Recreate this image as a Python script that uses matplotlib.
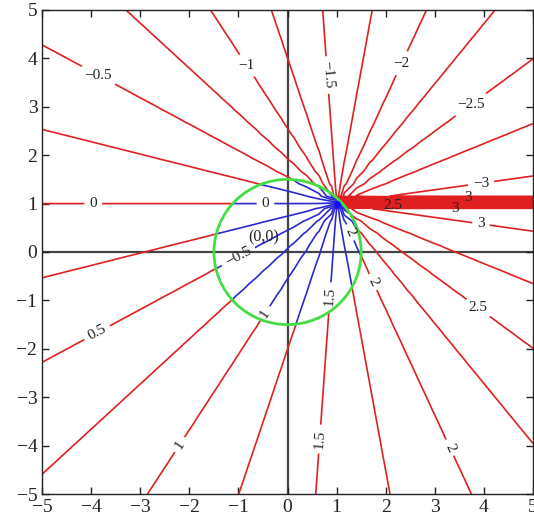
import numpy as np
import matplotlib.pyplot as plt
from matplotlib.patches import Circle
from matplotlib.path import Path

# field: argument of (z0 - z), rays from the point z0
z0 = 1 + 1j
radius = 1.5
label_levels = [-3.0, -2.5, -2.0, -1.5, -1.0, -0.5, 0.0, 0.5, 1.0, 1.5, 2.0, 2.5, 3.0]
plain_levels = [-2.75, -2.25, -1.75, -1.25, -0.75, -0.25, 0.25, 0.75, 1.25, 1.75, 2.25, 2.75]
inner_label_text = {-3.0: "\u22123", -2.5: "\u22122.5", -2.0: "\u22122", -1.5: "\u22121.5",
                    -1.0: "\u22121", -0.5: "\u22120.5", 0.0: "0", 0.5: "\u22120.5",
                    1.0: "1", 1.5: "1.5", 2.0: "2", 2.5: "2.5", 3.0: "3"}

# where the labels sit (data coords)
outer_label_pos = [(-3.86, 3.64), (-3.96, 0.99), (-0.8, 3.87), (0.86, 3.66),
                   (2.39, 3.87), (3.73, 3.05), (3.94, 1.44),
                   (3.94, 0.58), (3.92, -1.11),
                   (1.78, -0.60), (3.37, -4.01), (0.73, -3.87), (-2.24, -3.95),
                   (-3.88, -1.67)]
inner_label_pos = [(-0.45, 0.99), (-1.0, -0.10), (-0.45, -1.28), (0.94, -0.93),
                   (1.29, 0.41)]
# labels that sit on the branch cut band
band_labels = ["2.5", "3", "3"]
band_x = [2.14, 3.41, 3.67]
band_y = [0.97, 0.90, 1.13]
upright = ["\u22120.5", "\u22121", "\u22122", "\u22122.5", "\u22123", "3", "2.5", "0"]

plt.rcParams['font.family'] = ['Liberation Serif', 'DejaVu Serif']
plt.rcParams['contour.negative_linestyle'] = 'solid'

n = 40
x = np.linspace(-5, 5, n)
y = np.linspace(-5, 5, n)
X, Y = np.meshgrid(x, y)
F = np.angle(z0 - (X + 1j * Y))

def fmt(v):
    return f"{v:g}".replace('-', '\u2212')

fig = plt.figure(figsize=(5.34, 5.25), dpi=100)
ax = fig.add_axes([0.079, 0.059, 0.919, 0.922])

ax.axhline(0, color='#444444', lw=1.6, zorder=1)
ax.axvline(0, color='#444444', lw=1.6, zorder=1)

# clip paths: inside the circle / outside it
t = np.linspace(0, 2 * np.pi, 300)
disc = Path(np.column_stack([radius * np.cos(t), radius * np.sin(t)]))
box = [(-6, -6), (6, -6), (6, 6), (-6, 6), (-6, -6)]
hole = np.column_stack([radius * np.cos(-t), radius * np.sin(-t)])
ring = Path(np.vstack([box, hole]),
            [Path.MOVETO] + [Path.LINETO] * 4 + [Path.MOVETO] + [Path.LINETO] * (len(t) - 1))

red = '#e02020'
blue = '#2a2ad0'
outer = []
inner = []
for lv in (plain_levels, label_levels):
    outer.append(ax.contour(X, Y, F, levels=lv, colors=red, linewidths=1.2, zorder=2))
    inner.append(ax.contour(X, Y, F, levels=lv, colors=blue, linewidths=1.2, zorder=2))

ax.clabel(outer[1], inline=True, fmt=fmt, fontsize=11, colors='#222222',
          manual=outer_label_pos)
ax.clabel(inner[1], inline=True, fmt=inner_label_text, fontsize=11, colors='#222222',
          manual=inner_label_pos)

for cs in outer:
    cs.set_clip_path(ring, ax.transData)
for cs in inner:
    cs.set_clip_path(disc, ax.transData)

# most outer labels stand level, as in the picture
for txt in outer[1].labelTexts:
    x0, y0 = txt.get_position()
    if txt.get_text() in upright and (y0 > 0.3 or x0 > 3.5):
        txt.set_rotation(0)

for s, bx, by in zip(band_labels, band_x, band_y):
    ax.text(bx, by, s, fontsize=11, ha='center', va='center', color='#222222', zorder=5)

ax.add_patch(Circle((0, 0), radius, fill=False, color='#44dd44', lw=2, zorder=3))
ax.plot(z0.real, z0.imag, 'o', color='#1010ff', ms=4, zorder=4)
ax.text(-0.49, 0.31, "(0,0)", fontsize=11.5, ha='center', va='center', color='#222222')

ax.set_xlim(-5, 5)
ax.set_ylim(-5, 5)
ax.set_xticks(range(-5, 6))
ax.set_yticks(range(-5, 6))
ax.tick_params(direction='in', length=5, width=1, top=True, right=True,
               labelsize=14, colors='#222222')
for s in ax.spines.values():
    s.set_color('#222222')
    s.set_linewidth(1)

fig.savefig('out.png', dpi=100)
